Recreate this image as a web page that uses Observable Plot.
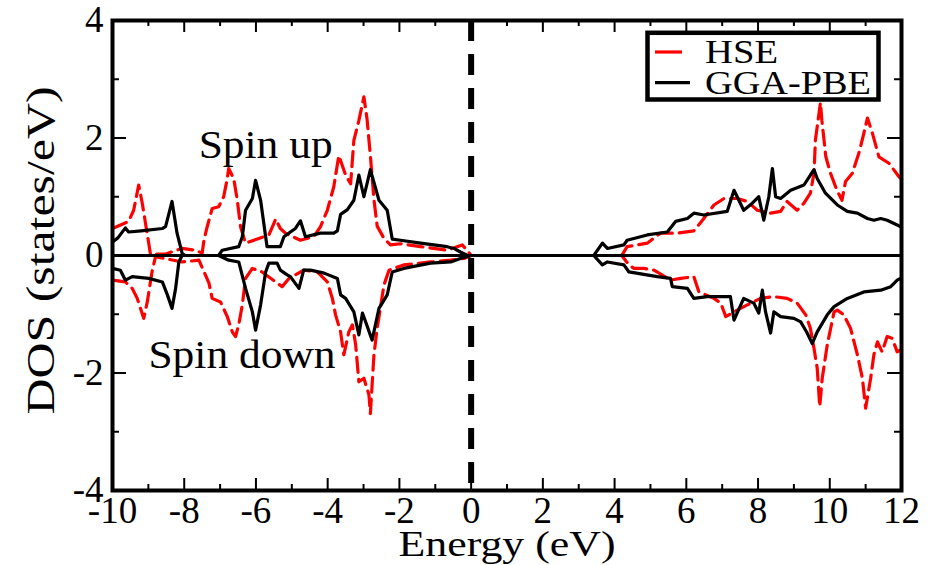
<!DOCTYPE html>
<html>
<head>
<meta charset="utf-8">
<script src="https://cdn.jsdelivr.net/npm/d3@7"></script>
<script src="https://cdn.jsdelivr.net/npm/@observablehq/plot@0.6"></script>
<style>
  body { margin: 0; background: #fff; }
  #wrap { position: relative; width: 933px; height: 565px; }
  #legend { position: absolute; left: 640px; top: 25px; }
</style>
</head>
<body>
<div id="wrap"></div>
<script>
// ---------------- data ----------------
const hseUpE   = [-10,-9.55,-9.41,-9.27,-9.17,-9.08,-8.99,-8.94,-8.5,-8.06,-7.69,-7.5,-7.45,-7.36,-7.22,-7.04,-6.9,-6.8,-6.76,-6.62,-6.52,-6.43,-6.29,-5.92,-5.64,-5.45,-5.32,-5.18,-4.76,-4.39,-4.2,-4.01,-3.83,-3.69,-3.5,-3.36,-3.27,-3.13,-2.99,-2.9,-2.81,-2.71,-2.62,-2.43,-2.25,-1.97,-1.41,-0.67,-0.25,-0.11,0,4.2,4.35,4.91,5.28,5.75,6.21,6.45,6.77,7.05,7.42,7.7,7.98,8.35,8.63,8.81,9.09,9.28,9.46,9.56,9.6,9.7,9.74,9.78,9.89,10.02,10.2,10.34,10.44,10.63,10.81,10.95,11.05,11.19,11.37,11.65,11.93,12];
const hseUpDos = [0.46,0.58,0.77,1.2,0.89,0.55,0.21,0.02,0.03,0.12,0.09,0.04,0.26,0.49,0.8,0.83,1.0,1.31,1.48,1.31,0.94,0.49,0.21,0.29,0.35,0.62,0.46,0.38,0.26,0.32,0.49,0.77,1.17,1.7,1.37,1.22,1.96,2.3,2.7,2.31,1.7,0.95,0.5,0.29,0.18,0.2,0.15,0.09,0.18,0.09,0,0,0.15,0.21,0.38,0.38,0.42,0.6,0.86,0.97,0.97,0.92,0.77,0.72,0.75,0.92,0.77,0.89,1.06,1.4,1.97,2.42,2.6,2.3,1.68,1.4,1.11,0.94,1.26,1.4,1.74,2.08,2.34,2.08,1.68,1.57,1.34,1.3];

const hseDownE   = [-10,-9.64,-9.45,-9.31,-9.13,-9.03,-8.89,-8.8,-8.06,-7.59,-7.41,-7.31,-7.22,-6.99,-6.8,-6.66,-6.57,-6.48,-6.38,-6.29,-6.1,-5.83,-5.45,-5.27,-5.08,-4.67,-4.29,-4.01,-3.87,-3.78,-3.64,-3.55,-3.41,-3.31,-3.22,-3.13,-2.99,-2.85,-2.81,-2.71,-2.62,-2.43,-2.29,-1.88,-1.13,-0.57,-0.2,0,4.2,4.4,4.54,4.82,5.1,5.56,5.84,6.21,6.35,6.77,6.96,7.1,7.33,7.7,8.07,8.44,8.81,9.09,9.33,9.46,9.56,9.65,9.72,9.79,9.93,10.12,10.21,10.39,10.58,10.77,10.91,11.0,11.14,11.23,11.33,11.46,11.6,11.74,11.88,12];
const hseDownDos = [-0.42,-0.45,-0.56,-0.73,-1.07,-0.79,-0.25,-0.02,-0.11,-0.08,-0.33,-0.47,-0.73,-0.79,-1.04,-1.3,-1.38,-1.18,-0.84,-0.39,-0.22,-0.28,-0.45,-0.53,-0.39,-0.25,-0.28,-0.45,-0.73,-1.01,-1.3,-1.69,-1.3,-1.18,-1.52,-2.15,-2.09,-2.37,-2.69,-1.69,-1.24,-0.5,-0.25,-0.16,-0.11,-0.08,-0.05,0,0,-0.16,-0.22,-0.22,-0.25,-0.42,-0.39,-0.36,-0.62,-0.73,-0.81,-1.04,-0.96,-0.84,-0.73,-0.7,-0.73,-0.81,-1.01,-1.24,-1.58,-1.92,-2.57,-2.09,-1.52,-0.96,-0.93,-1.01,-1.24,-1.69,-2.09,-2.6,-2.09,-1.69,-1.47,-1.64,-1.38,-1.41,-1.64,-1.6];

const ggaUpE   = [-10,-9.85,-9.64,-9.55,-9.2,-8.61,-8.52,-8.34,-8.2,-8.06,-7.98,-7.04,-6.94,-6.48,-6.38,-6.29,-6.1,-6.01,-5.87,-5.73,-5.69,-5.32,-5.22,-5.04,-4.9,-4.76,-4.62,-4.2,-3.83,-3.73,-3.64,-3.45,-3.27,-3.13,-2.99,-2.81,-2.57,-2.34,-2.2,-1.97,-1.41,-0.67,-0.48,-0.3,-0.1,3.42,3.66,3.8,4.26,4.35,4.91,5.47,5.7,6.03,6.21,6.49,7.14,7.33,7.6,7.84,8.02,8.16,8.3,8.4,8.49,8.63,8.91,9.28,9.46,9.56,9.65,9.88,10.21,10.49,10.77,11.05,11.23,11.42,11.6,11.88,12];
const ggaUpDos = [0.23,0.3,0.47,0.4,0.42,0.46,0.49,0.92,0.38,0.04,0,0,0.09,0.15,0.32,0.77,0.97,1.28,0.94,0.32,0.15,0.15,0.32,0.4,0.46,0.59,0.32,0.38,0.38,0.42,0.7,0.78,0.94,1.37,1.0,1.46,0.94,0.77,0.28,0.26,0.21,0.15,0.12,0.06,0,0,0.21,0.12,0.18,0.26,0.35,0.4,0.58,0.63,0.72,0.69,0.75,1.11,0.77,0.89,1.0,0.6,1.0,1.48,1.0,0.97,1.11,1.2,1.37,1.46,1.31,1.06,0.86,0.75,0.72,0.63,0.6,0.63,0.6,0.52,0.48];

const ggaDownE   = [-10,-9.78,-9.64,-9.45,-8.99,-8.61,-8.47,-8.34,-8.24,-8.15,-8.06,-7.04,-6.76,-6.48,-6.29,-6.1,-6.01,-5.87,-5.73,-5.64,-5.41,-5.32,-5.13,-5.04,-4.8,-4.67,-4.48,-4.1,-3.73,-3.64,-3.5,-3.27,-3.13,-3.03,-2.76,-2.57,-2.34,-2.2,-1.88,-1.13,-0.57,-0.3,0,3.42,3.66,3.8,4.26,4.4,5.19,5.56,5.61,6.03,6.21,6.58,7.23,7.33,7.6,7.88,8.02,8.12,8.21,8.35,8.44,8.63,9.0,9.19,9.37,9.51,9.65,9.93,10.12,10.49,10.95,11.42,11.7,11.88,12];
const ggaDownDos = [-0.22,-0.25,-0.42,-0.36,-0.39,-0.45,-0.67,-0.9,-0.56,-0.11,0,0,-0.08,-0.11,-0.56,-0.96,-1.27,-0.84,-0.28,-0.13,-0.13,-0.25,-0.33,-0.36,-0.56,-0.25,-0.25,-0.3,-0.39,-0.67,-0.73,-0.96,-1.35,-0.98,-1.44,-0.9,-0.67,-0.28,-0.22,-0.13,-0.11,-0.05,0,0,-0.16,-0.11,-0.16,-0.28,-0.36,-0.39,-0.53,-0.56,-0.73,-0.7,-0.7,-1.1,-0.73,-0.81,-0.98,-0.59,-0.96,-1.32,-0.96,-1.04,-1.07,-1.13,-1.32,-1.5,-1.3,-1.01,-0.87,-0.73,-0.62,-0.59,-0.53,-0.42,-0.38];

// ticks
const xTickValues = [-10,-8,-6,-4,-2,0,2,4,6,8,10,12];
const xTickLabels = ["-10","-8","-6","-4","-2","0","2","4","6","8","10","12"];
const yTickValues = [-4,-2,0,2,4];
const yTickLabels = ["-4","-2","0","2","4"];
const xMajorInner = [-8,-6,-4,-2,0,2,4,6,8,10];
const xMinor = [-9,-7,-5,-3,-1,1,3,5,7,9,11];
const yMajorInner = [-2,0,2];
const yMinor = [-3,-1,1,3];

const annotations = [
  {label: "Spin up", e: -5.73, dos: 1.66},
  {label: "Spin down", e: -6.39, dos: -1.91}
];
const legendItems = ["HSE", "GGA-PBE"];
const xTitle = "Energy (eV)";
const yTitle = "DOS (states/eV)";

// ---------------- layout ----------------
const W = 933, H = 565;
const mL = 112, mR = 32, mT = 20, mB = 75;
const xDom = [-10, 12], yDom = [-4, 4];
const xu = (xDom[1] - xDom[0]) / (W - mL - mR);   // data units per px
const yu = (yDom[1] - yDom[0]) / (H - mT - mB);
const majLen = 12, minLen = 6;

const toRows = (E, D) => E.map((e, i) => ({e, dos: D[i]}));
const hseUp = toRows(hseUpE, hseUpDos);
const hseDown = toRows(hseDownE, hseDownDos);
const ggaUp = toRows(ggaUpE, ggaUpDos);
const ggaDown = toRows(ggaDownE, ggaDownDos);

const font = "'Liberation Serif', 'Times New Roman', serif";
const tickStyle = {stroke: "black", strokeWidth: 2};

const chart = Plot.plot({
  width: W, height: H,
  marginLeft: mL, marginRight: mR, marginTop: mT, marginBottom: mB,
  x: {domain: xDom, axis: null},
  y: {domain: yDom, axis: null},
  style: {fontFamily: font, background: "white", color: "black"},
  marks: [
    Plot.line(hseUp,   {x: "e", y: "dos", stroke: "#ff0000", strokeWidth: 3.2, strokeDasharray: "15,7"}),
    Plot.line(hseDown, {x: "e", y: "dos", stroke: "#ff0000", strokeWidth: 3.2, strokeDasharray: "15,7"}),
    Plot.line(ggaUp,   {x: "e", y: "dos", stroke: "black", strokeWidth: 3.2}),
    Plot.line(ggaDown, {x: "e", y: "dos", stroke: "black", strokeWidth: 3.2}),
    Plot.ruleY([0], {stroke: "black", strokeWidth: 3}),
    Plot.ruleX([0], {stroke: "black", strokeWidth: 6, strokeDasharray: "21,13"}),
    // inward ticks: bottom / top
    Plot.ruleX(xMajorInner, {x: d => d, y1: yDom[0], y2: yDom[0] + majLen * yu, ...tickStyle}),
    Plot.ruleX(xMinor,      {x: d => d, y1: yDom[0], y2: yDom[0] + minLen * yu, ...tickStyle}),
    Plot.ruleX(xMajorInner, {x: d => d, y1: yDom[1], y2: yDom[1] - majLen * yu, ...tickStyle}),
    Plot.ruleX(xMinor,      {x: d => d, y1: yDom[1], y2: yDom[1] - minLen * yu, ...tickStyle}),
    // inward ticks: left / right
    Plot.ruleY(yMajorInner, {y: d => d, x1: xDom[0], x2: xDom[0] + (majLen + 2) * xu, ...tickStyle}),
    Plot.ruleY(yMinor,      {y: d => d, x1: xDom[0], x2: xDom[0] + (minLen + 1) * xu, ...tickStyle}),
    Plot.ruleY(yMajorInner, {y: d => d, x1: xDom[1], x2: xDom[1] - (majLen + 2) * xu, ...tickStyle}),
    Plot.ruleY(yMinor,      {y: d => d, x1: xDom[1], x2: xDom[1] - (minLen + 1) * xu, ...tickStyle}),
    Plot.frame({stroke: "black", strokeWidth: 4}),
    // tick labels
    Plot.text(xTickValues, {x: d => d, y: yDom[0], text: (d, i) => xTickLabels[i], dy: 21, lineAnchor: "middle", fontSize: 37, fill: "black"}),
    Plot.text(yTickValues, {x: xDom[0], y: d => d, text: (d, i) => yTickLabels[i], dx: -9, textAnchor: "end", lineAnchor: "middle", fontSize: 37, fill: "black"}),
    // axis titles
    Plot.text([xTitle], {frameAnchor: "bottom", textAnchor: "middle", dy: 54, lineAnchor: "middle", fontSize: 35, fill: "black"}),
    Plot.text([yTitle], {frameAnchor: "left", textAnchor: "middle", dx: -71, dy: -5, rotate: -90, lineAnchor: "middle", fontSize: 40, fill: "black"}),
    // annotations
    Plot.text(annotations, {x: "e", y: "dos", text: "label", lineAnchor: "bottom", fontSize: 40, fill: "black"})
  ]
});

// the reference's serif glyphs are a little wider than Liberation Serif: stretch to the measured lengths
const stretch = {[xTitle]: 217, [yTitle]: 328, "Spin up": 134, "Spin down": 187};
d3.select(chart).selectAll("text").each(function () {
  const len = stretch[this.textContent];
  if (len) d3.select(this).attr("textLength", len).attr("lengthAdjust", "spacingAndGlyphs");
});

const wrap = document.getElementById("wrap");
wrap.appendChild(chart);

// legend box drawn inside the plot area (as in the reference)
const lg = d3.select(wrap).append("svg")
  .attr("id", "legend").attr("width", 250).attr("height", 85);
lg.append("rect").attr("x", 7.5).attr("y", 7.8).attr("width", 231).attr("height", 66.7)
  .attr("fill", "white").attr("stroke", "black").attr("stroke-width", 4.5);
const legendStyles = [
  {stroke: "#ff0000", x2: 42, len: 73},
  {stroke: "black", x2: 50, len: 166}
];
legendItems.forEach((name, i) => {
  const cy = 27 + i * 30.7;
  lg.append("line").attr("x1", 15).attr("x2", legendStyles[i].x2)
    .attr("y1", cy).attr("y2", cy)
    .attr("stroke", legendStyles[i].stroke).attr("stroke-width", 3.2);
  lg.append("text").attr("x", 65).attr("y", cy + 11)
    .attr("font-family", font).attr("font-size", 33).attr("fill", "black")
    .attr("textLength", legendStyles[i].len).attr("lengthAdjust", "spacingAndGlyphs")
    .text(name);
});
</script>
</body>
</html>
